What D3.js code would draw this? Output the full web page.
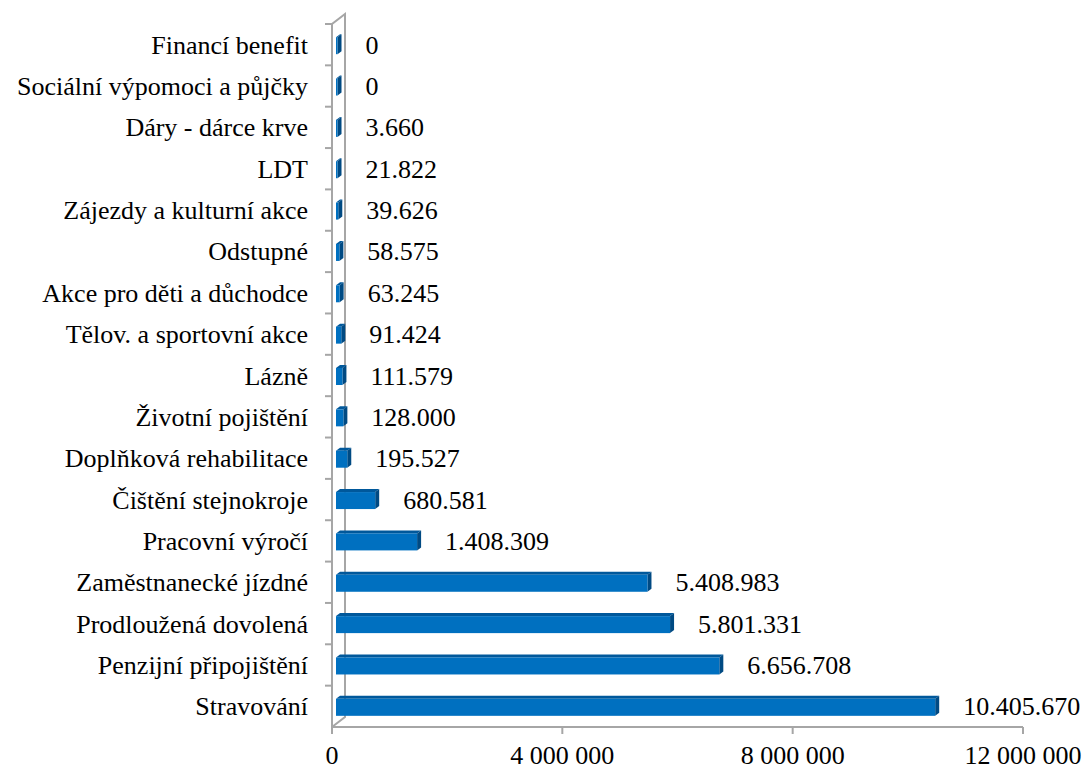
<!DOCTYPE html>
<html>
<head>
<meta charset="utf-8">
<script src="https://cdn.jsdelivr.net/npm/d3@7"></script>
<style>
  body { margin: 0; background: #fff; }
</style>
</head>
<body>
<div id="chart"></div>
<script>
const categories = [
    "Financí benefit",
    "Sociální výpomoci a půjčky",
    "Dáry - dárce krve",
    "LDT",
    "Zájezdy a kulturní akce",
    "Odstupné",
    "Akce pro děti a důchodce",
    "Tělov. a sportovní akce",
    "Lázně",
    "Životní pojištění",
    "Doplňková rehabilitace",
    "Čištění stejnokroje",
    "Pracovní výročí",
    "Zaměstnanecké jízdné",
    "Prodloužená dovolená",
    "Penzijní připojištění",
    "Stravování"
];
const values = [0, 0, 3660, 21822, 39626, 58575, 63245, 91424, 111579, 128000, 195527, 680581, 1408309, 5408983, 5801331, 6656708, 10405670];
const xTicks = [0, 4000000, 8000000, 12000000];

const width = 1085, height = 771;
const plotLeft = 332, plotRight = 1023, plotTop = 24, plotBottom = 727;
const depthX = 13, depthY = -10;
const fontFam = "'Liberation Serif', 'Times New Roman', Times, serif";
const fontSize = "26px";

const svg = d3.select("#chart")
    .append("svg")
    .attr("width", width)
    .attr("height", height)
    .attr("font-family", fontFam);

const x = d3.scaleLinear().domain([0, 12000000]).range([plotLeft, plotRight]);
const y = d3.scaleBand().domain(categories).range([plotTop, plotBottom]);

const fmt = v => d3.format(",")(v).replace(/,/g, ".");
const fmtTick = v => d3.format(",")(v).replace(/,/g, " ");

// walls
const grey = "#a6a6a6";
svg.append("path")
    .attr("d", `M${plotLeft},${plotBottom} L${plotLeft},${plotTop} L${plotLeft + depthX},${plotTop + depthY} L${plotLeft + depthX},${plotBottom + depthY} L${plotLeft},${plotBottom}`)
    .attr("fill", "none")
    .attr("stroke", grey)
    .attr("stroke-width", 2);
svg.append("line")
    .attr("x1", plotLeft).attr("x2", plotRight)
    .attr("y1", plotBottom).attr("y2", plotBottom)
    .attr("stroke", grey).attr("stroke-width", 2);

// y ticks (band boundaries)
const bounds = categories.map(c => y(c));
svg.selectAll(".ytick")
    .data(bounds)
    .enter()
    .append("line")
    .attr("x1", plotLeft - 7).attr("x2", plotLeft)
    .attr("y1", d => d).attr("y2", d => d)
    .attr("stroke", grey).attr("stroke-width", 2);

// x ticks
svg.selectAll(".xtick")
    .data(xTicks)
    .enter()
    .append("line")
    .attr("x1", d => x(d)).attr("x2", d => x(d))
    .attr("y1", plotBottom).attr("y2", plotBottom + 7)
    .attr("stroke", grey).attr("stroke-width", 2);

svg.selectAll(".xlabel")
    .data(xTicks)
    .enter()
    .append("text")
    .attr("x", d => x(d))
    .attr("y", plotBottom + 37)
    .attr("text-anchor", "middle")
    .style("font-size", fontSize)
    .text(d => fmtTick(d));

// 3D bars
const bx = 4, bh = 17, dx = 4, dy = -3;
const bars = svg.selectAll(".bar")
    .data(categories.map((c, i) => ({ c, v: values[i] })))
    .enter()
    .append("g");

const x0 = plotLeft + bx;
const barW = d => Math.max(1.5, x(d.v) - plotLeft);
const barY = d => y(d.c) + y.bandwidth() / 2 - bh / 2 + 1;

bars.append("path")
    .attr("d", d => {
        const w = barW(d), yy = barY(d);
        return `M${x0},${yy} L${x0 + dx},${yy + dy} L${x0 + w + dx},${yy + dy} L${x0 + w},${yy} Z`;
    })
    .attr("fill", "#00589b");

bars.append("path")
    .attr("d", d => {
        const w = barW(d), yy = barY(d);
        return `M${x0 + w},${yy} L${x0 + w + dx},${yy + dy} L${x0 + w + dx},${yy + dy + bh} L${x0 + w},${yy + bh} Z`;
    })
    .attr("fill", "#004a83");

bars.append("rect")
    .attr("x", x0)
    .attr("y", d => barY(d))
    .attr("width", d => barW(d))
    .attr("height", bh)
    .attr("fill", "#0070c0");

// value labels
bars.append("text")
    .attr("x", d => x0 + barW(d) + 28)
    .attr("y", d => y(d.c) + y.bandwidth() / 2 + 9)
    .style("font-size", fontSize)
    .text(d => fmt(d.v));

// category labels
svg.selectAll(".cat")
    .data(categories)
    .enter()
    .append("text")
    .attr("x", 308)
    .attr("y", d => y(d) + y.bandwidth() / 2 + 9)
    .attr("text-anchor", "end")
    .style("font-size", fontSize)
    .text(d => d);
</script>
</body>
</html>
